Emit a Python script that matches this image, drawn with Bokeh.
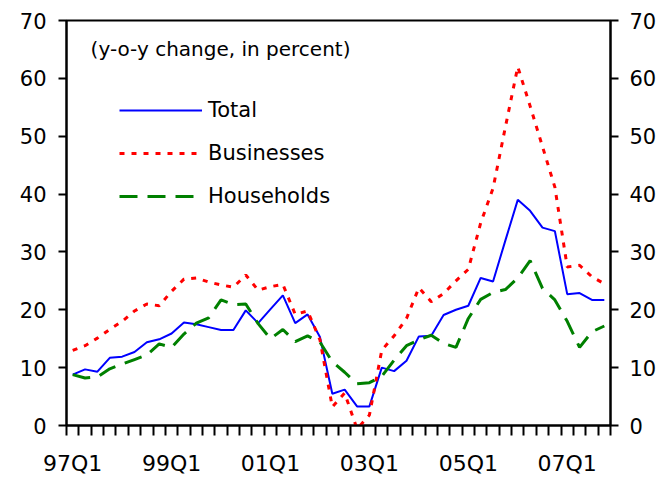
from bokeh.plotting import figure
from bokeh.models import (Range1d, LinearAxis, FixedTicker, Legend, LegendItem, Label)
from bokeh.embed import file_html
from bokeh.resources import INLINE

# ---- data (y-o-y change, in percent), quarterly 97Q1 .. 07Q4 ----
quarters = [f"{(97 + i // 4) % 100:02d}Q{i % 4 + 1}" for i in range(44)]
tick_quarters = ["97Q1", "99Q1", "01Q1", "03Q1", "05Q1", "07Q1"]

total = [8.8, 9.7, 9.3, 11.7, 11.9, 12.7, 14.4, 14.9, 15.9, 17.8, 17.5, 17.0,
         16.5, 16.5, 19.9, 17.7, 20.1, 22.5, 17.7, 19.2, 15.3, 5.5, 6.2, 3.3,
         3.3, 10.0, 9.4, 11.2, 15.4, 15.5, 19.1, 20.0, 20.7, 25.5, 24.9, 32.0,
         39.0, 37.1, 34.2, 33.6, 22.7, 22.9, 21.7, 21.7]
businesses = [13.0, 13.8, 15.1, 16.6, 18.0, 19.8, 21.0, 20.7, 23.2, 25.3, 25.5, 24.8,
              24.3, 23.9, 26.0, 23.4, 24.0, 24.4, 19.2, 19.8, 14.8, 3.2, 5.6, -0.6,
              1.8, 13.0, 15.5, 18.5, 23.8, 21.4, 22.8, 25.0, 27.0, 35.0, 41.0, 51.6,
              62.0, 55.2, 48.2, 41.2, 27.4, 27.7, 25.7, 24.5]
households = [8.8, 8.2, 8.4, 9.8, 10.6, 11.4, 12.2, 14.1, 13.5, 15.8, 17.7, 18.6,
              21.7, 20.9, 21.0, 17.6, 15.0, 16.6, 14.5, 15.5, 14.4, 11.0, 9.2, 7.2,
              7.4, 8.5, 11.3, 13.8, 14.8, 15.6, 14.2, 13.5, 18.5, 21.8, 23.0, 23.5,
              25.5, 28.5, 23.7, 21.7, 18.0, 13.5, 16.2, 17.2]
y_ticks = [0, 10, 20, 30, 40, 50, 60, 70]

x = list(range(len(quarters)))
FONT = "DejaVu Sans"

p = figure(width=664, height=478, output_backend="svg", toolbar_location=None,
           x_range=Range1d(-0.5, len(quarters) - 0.5), y_range=Range1d(0, 70),
           min_border_left=66, min_border_right=54, min_border_top=20, min_border_bottom=51)
p.grid.visible = False
p.outline_line_color = "black"
p.outline_line_width = 2
p.background_fill_color = "white"
p.border_fill_color = "white"

r_tot = p.line(x, total, line_color="#0000ff", line_width=2)
r_bus = p.line(x, businesses, line_color="#ff0000", line_width=3, line_dash="5 7")
r_hh = p.line(x, households, line_color="#008000", line_width=3, line_dash="18 10")

# x axis: quarter tick marks, labels every 8 quarters centred in the slot
xa = p.xaxis[0]
major = [quarters.index(q) for q in tick_quarters]
xa.ticker = FixedTicker(ticks=major, minor_ticks=[i - 0.5 for i in range(len(quarters) + 1)])
xa.major_label_overrides = {m: q for m, q in zip(major, tick_quarters)}
xa.major_tick_out = 0
xa.major_tick_in = 0
xa.minor_tick_out = 10
xa.minor_tick_in = 0
xa.minor_tick_line_width = 2
xa.axis_line_width = 2
xa.major_label_standoff = 15
xa.major_label_text_font = FONT
xa.major_label_text_font_size = "22px"
xa.major_label_text_color = "black"

def style_y(ax, standoff):
    ax.ticker = FixedTicker(ticks=y_ticks, minor_ticks=[])
    ax.major_tick_out = 8
    ax.major_tick_in = 0
    ax.major_tick_line_width = 2
    ax.axis_line_width = 2
    ax.minor_tick_out = 0
    ax.major_label_standoff = standoff
    ax.major_label_text_font = FONT
    ax.major_label_text_font_size = "21px"
    ax.major_label_text_color = "black"

style_y(p.yaxis[0], 12)
ry = LinearAxis()
style_y(ry, 11)
p.add_layout(ry, "right")

p.add_layout(Label(x=1.45, y=65.0, text="(y-o-y change, in percent)",
                   text_font=FONT, text_font_size="20px", text_color="black",
                   text_baseline="middle", text_align="left"))

legend = Legend(items=[LegendItem(label="Total", renderers=[r_tot]),
                       LegendItem(label="Businesses", renderers=[r_bus]),
                       LegendItem(label="Households", renderers=[r_hh])],
                location=(53, 217), orientation="vertical",
                glyph_width=83, glyph_height=24, label_height=24,
                label_standoff=6, spacing=19, padding=0, margin=0,
                label_text_font=FONT, label_text_font_size="21px",
                label_text_color="black",
                background_fill_alpha=0, border_line_alpha=0)
p.add_layout(legend, "center")

open("out.html", "w").write(file_html(p, INLINE))
